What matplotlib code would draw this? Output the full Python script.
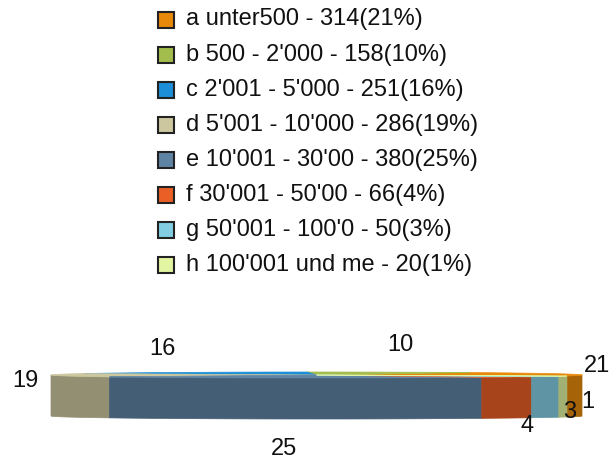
import numpy as np
import matplotlib.pyplot as plt
from matplotlib.patches import Polygon, Rectangle
from matplotlib.colors import to_rgb

plt.rcParams['font.family'] = ['Liberation Sans', 'DejaVu Sans']

# data
names = ["a unter500", "b 500 - 2'000", "c 2'001 - 5'000", "d 5'001 - 10'000",
         "e 10'001 - 30'00", "f 30'001 - 50'00", "g 50'001 - 100'0", "h 100'001 und me"]
values = [314, 158, 251, 286, 380, 66, 50, 20]
colors = ['#E8890A', '#A3BD4C', '#1C8FD8', '#CCC79E',
          '#5E83A3', '#EA5F26', '#82CDE2', '#E2F5A0']

# flat 3d pie geometry (pixel space)
cx, cy = 316.5, 375.0
rx, ry = 265.5, 3.0
depth = 41.0
start = -19.4  # degrees, counterclockwise

total = sum(values)
pcts = [int(round(100 * v / total)) for v in values]

fig = plt.figure(figsize=(6.1, 4.62), dpi=100)
ax = fig.add_axes([0, 0, 1, 1])
ax.set_xlim(0, 610)
ax.set_ylim(462, 0)
ax.axis('off')


def darker(c, f=0.72):
    r, g, b = to_rgb(c)
    return (r * f, g * f, b * f)


def rim(t):
    return cx + rx * np.cos(t), cy - ry * np.sin(t)


bounds = start + 360 * np.concatenate([[0], np.cumsum(values)]) / total

# side walls (front half only)
for i in range(len(values)):
    a0, a1 = bounds[i], bounds[i + 1]
    for lo, hi in [(180, 360), (-180, 0), (540, 720)]:
        s, e = max(a0, lo), min(a1, hi)
        if e <= s:
            continue
        t = np.radians(np.linspace(s, e, 60))
        x, y = rim(t)
        pts = np.column_stack([np.r_[x, x[::-1]], np.r_[y, y[::-1] + depth]])
        ax.add_patch(Polygon(pts, closed=True, facecolor=darker(colors[i]),
                             edgecolor=darker(colors[i]), lw=0.5))

# top face
for i in range(len(values)):
    t = np.radians(np.linspace(bounds[i], bounds[i + 1], 80))
    x, y = rim(t)
    pts = np.column_stack([np.r_[cx, x], np.r_[cy, y]])
    ax.add_patch(Polygon(pts, closed=True, facecolor=colors[i],
                         edgecolor=colors[i], lw=0.5))

# value labels
for i, p in enumerate(pcts):
    mid = np.radians((bounds[i] + bounds[i + 1]) / 2)
    s = np.sin(mid)
    if s >= 0:
        lx = cx + 294 * np.cos(mid)
        ly = cy - 31 * s
    else:
        lx = cx + 292 * np.cos(mid)
        ly = cy - 74 * s
    ax.text(lx, ly, str(p), ha='center', va='center', fontsize=17, color='#111111')

# legend
for i, (n, v, p) in enumerate(zip(names, values, pcts)):
    yy = 19.5 + 35.1 * i
    ax.add_patch(Rectangle((158, yy - 8), 16, 16, facecolor=colors[i],
                           edgecolor='#222222', lw=1.5))
    ax.text(186, yy, f"{n} - {v}({p}%)", ha='left', va='center',
            fontsize=17, color='#111111')

fig.savefig('out.png', dpi=100)
